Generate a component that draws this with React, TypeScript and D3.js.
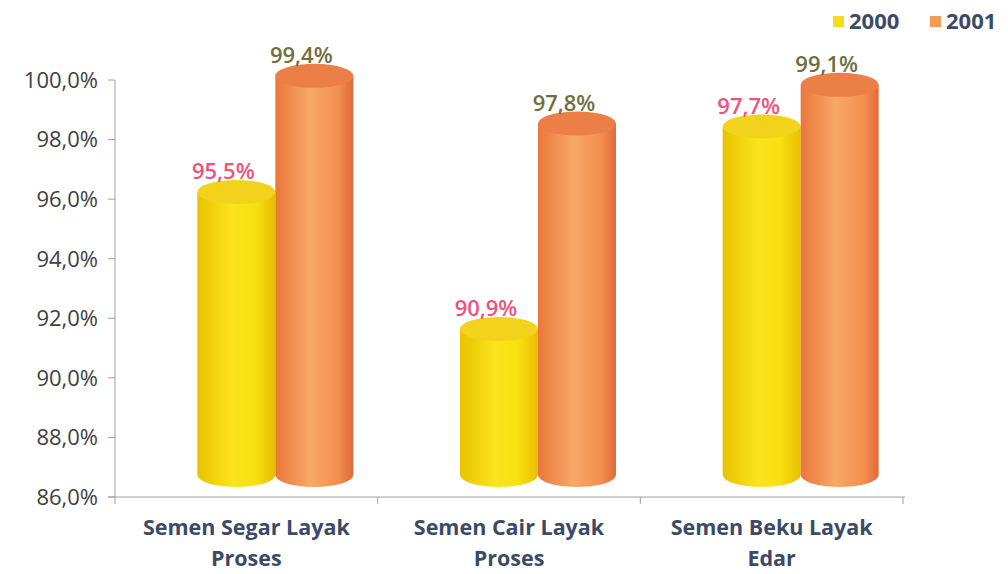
import React from "react";
import * as d3 from "d3";

const categories = ["Semen Segar Layak|Proses", "Semen Cair Layak|Proses", "Semen Beku Layak|Edar"];
const seriesNames = ["2000", "2001"];
const values2000 = [95.5, 90.9, 97.7];
const values2001 = [99.4, 97.8, 99.1];
const yTicks = [86, 88, 90, 92, 94, 96, 98, 100];

const W = 1008, H = 574;
const x0 = 115, x1 = 903, yTop = 80, yBot = 497;
const depthX = 29, depthY = -22;
const fmt = (v: number) => v.toFixed(1).replace(".", ",") + "%";

export default function App() {
  const y = d3.scaleLinear().domain([86, 100]).range([yBot, yTop]);
  const xc = d3.scaleBand<string>().domain(categories).range([x0, x1]).paddingInner(0).paddingOuter(0);
  const xs = d3.scaleBand<string>().domain(seriesNames).range([0, 156]);
  const series = [
    { name: "2000", vals: values2000, grad: "gY", top: "#f2d21a", label: "#f0527c", legend: "#f6dc1c" },
    { name: "2001", vals: values2001, grad: "gO", top: "#ec7e48", label: "#6e6e40", legend: "#f59a52" },
  ];
  const rx = 39, ry = 12;
  const font = "'Open Sans', sans-serif";
  return (
    <svg width={W} height={H} style={{ position: "absolute", left: 0, top: 0, background: "#fff" }}>
      <defs>
        <linearGradient id="gY" x1="0" x2="1" y1="0" y2="0">
          <stop offset="0" stopColor="#e9c200" />
          <stop offset="0.45" stopColor="#fbe41c" />
          <stop offset="0.75" stopColor="#f8df10" />
          <stop offset="1" stopColor="#e8bd00" />
        </linearGradient>
        <linearGradient id="gO" x1="0" x2="1" y1="0" y2="0">
          <stop offset="0" stopColor="#e9773a" />
          <stop offset="0.45" stopColor="#f8a868" />
          <stop offset="0.8" stopColor="#f39050" />
          <stop offset="1" stopColor="#e26a38" />
        </linearGradient>
      </defs>
      {/* axes */}
      <line x1={x0} x2={x0} y1={yTop} y2={yBot} stroke="#a0a0a0" strokeWidth={1} />
      <line x1={x0 - 7} x2={x1 + 2} y1={yBot} y2={yBot} stroke="#a0a0a0" strokeWidth={1} />
      {yTicks.map((t) => (
        <g key={t}>
          <line x1={x0 - 7} x2={x0} y1={y(t)} y2={y(t)} stroke="#a0a0a0" />
          <text x={98} y={y(t)} dy="0.36em" textAnchor="end" fontFamily={font} fontSize={22} fill="#404040">
            {fmt(t)}
          </text>
        </g>
      ))}
      {[...categories.map((c) => xc(c)!), x1].map((xx, i) => (
        <line key={i} x1={xx} x2={xx} y1={yBot} y2={yBot + 7} stroke="#a0a0a0" />
      ))}
      {categories.map((c) => {
        const lines = c.split("|");
        const cx = xc(c)! + xc.bandwidth() / 2;
        return (
          <text key={c} x={cx} y={535} textAnchor="middle" fontFamily={font} fontSize={21.5} fontWeight="bold" fill="#3b4a66">
            {lines.map((l, i) => (
              <tspan key={i} x={cx} dy={i === 0 ? 0 : 31}>{l}</tspan>
            ))}
          </text>
        );
      })}
      {/* cylinders */}
      {series.map((s) =>
        categories.map((c, i) => {
          const start = xc(c)! + (xc.bandwidth() - 156) / 2 + depthX;
          const left = start + xs(s.name)!;
          const cx = left + rx;
          const right = left + 2 * rx;
          const topY = y(s.vals[i]) + depthY;
          const botY = y(86) + depthY;
          const d = `M${left},${topY} L${left},${botY} A${rx},${ry} 0 0 0 ${right},${botY} L${right},${topY} Z`;
          return (
            <g key={s.name + c}>
              <path d={d} fill={`url(#${s.grad})`} />
              <ellipse cx={cx} cy={topY} rx={rx} ry={ry} fill={s.top} />
            </g>
          );
        })
      )}
      {/* labels */}
      {series.map((s) =>
        categories.map((c, i) => {
          const start = xc(c)! + (xc.bandwidth() - 156) / 2 + depthX;
          const cx = start + xs(s.name)! + rx - 13;
          const topY = y(s.vals[i]) + depthY;
          return (
            <text key={"l" + s.name + c} x={cx} y={topY - ry - 1} textAnchor="middle" fontFamily={font} fontSize={22} fontWeight={600} fill={s.label}>
              {fmt(s.vals[i])}
            </text>
          );
        })
      )}
      {/* legend */}
      {series.map((s, i) => (
        <g key={"lg" + s.name} transform={`translate(${833 + i * 97},16)`}>
          <rect x={0} y={0} width={11} height={11} fill={s.legend} />
          <text x={16} y={13} fontFamily={font} fontSize={22} fontWeight="bold" fill="#3b4a66">{s.name}</text>
        </g>
      ))}
    </svg>
  );
}
